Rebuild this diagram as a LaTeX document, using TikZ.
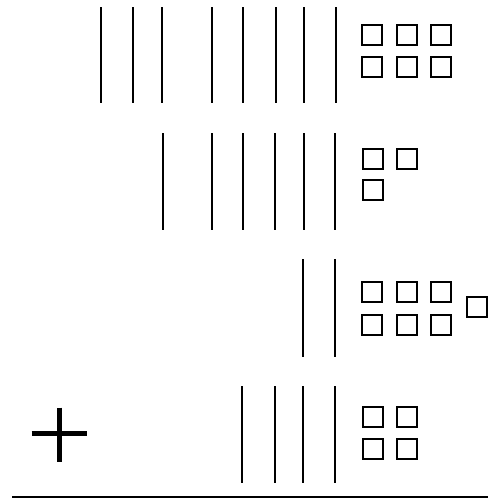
\documentclass[tikz,border=0pt]{standalone}
\begin{document}
\begin{tikzpicture}[x=1pt,y=-1pt,
  rod/.style={line width=2.2pt},
  unit/.style={draw,line width=2pt,minimum size=20pt,inner sep=0pt,outer sep=0pt},
  plusbar/.style={line width=5pt}]
\useasboundingbox (0,0) rectangle (488,498);
% row 1
\foreach \x in {100.7,132.7,161.7,212.3,243.3,275.7,304,336}
  \draw[rod] (\x,7) -- (\x,103);
\foreach \x/\n in {372.2/a,407/b,441/c} {
  \node[unit] (r1t\n) at (\x,34.5) {};
  \node[unit] (r1b\n) at (\x,67.2) {};
}
% row 2
\foreach \x in {163.3,212.3,243.3,274.7,304,335}
  \draw[rod] (\x,133) -- (\x,230);
\node[unit] (r2a) at (372.5,158.5) {};
\node[unit] (r2b) at (407,158.5) {};
\node[unit] (r2c) at (372.5,190) {};
% row 3
\foreach \x in {303.3,335}
  \draw[rod] (\x,259.3) -- (\x,357.3);
\foreach \x/\n in {372.2/a,407/b,441/c} {
  \node[unit] (r3t\n) at (\x,292.2) {};
  \node[unit] (r3b\n) at (\x,325) {};
}
\node[unit] (r3x) at (477,307.2) {};
% row 4
\foreach \x in {241.7,275,303.3,335}
  \draw[rod] (\x,386) -- (\x,483.3);
\node[unit] (r4a) at (373,417.2) {};
\node[unit] (r4b) at (407,417.2) {};
\node[unit] (r4c) at (373,448.7) {};
\node[unit] (r4d) at (407,448.7) {};
% plus sign
\draw[plusbar] (31.7,433.3) -- (87.3,433.3);
\draw[plusbar] (59.3,407.7) -- (59.3,461.7);
% sum line
\draw[line width=2pt] (12,496.7) -- (488,496.7);
\end{tikzpicture}
\end{document}
